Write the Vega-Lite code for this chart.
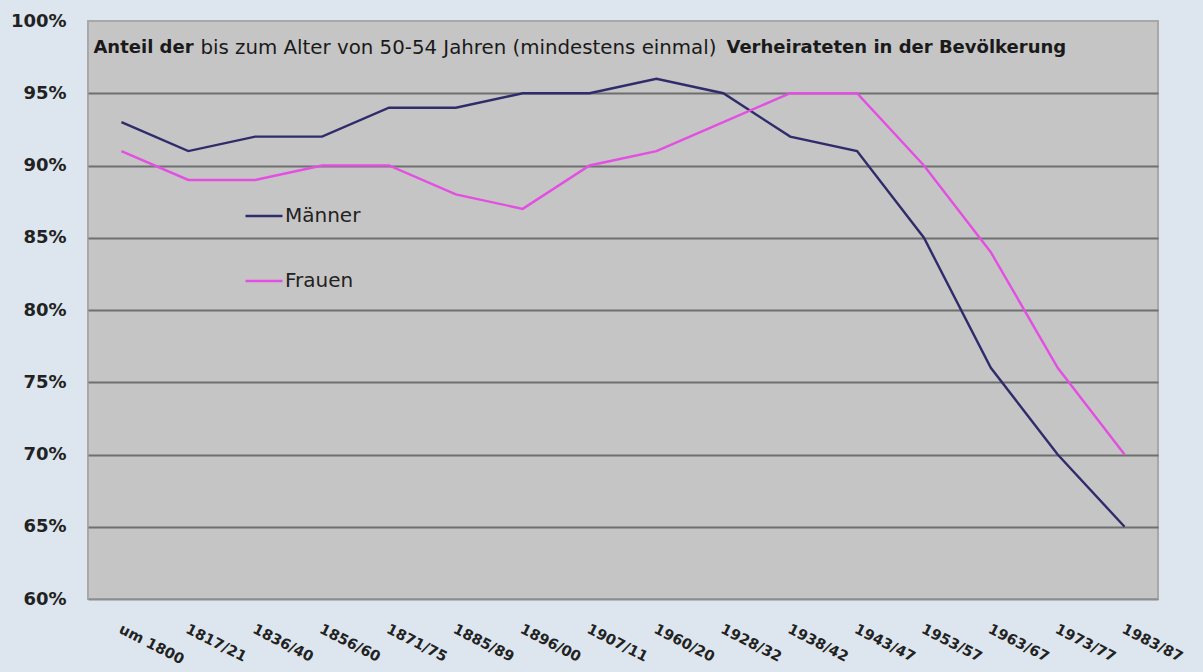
{
  "$schema": "https://vega.github.io/schema/vega-lite/v6.json",
  "width": 1070,
  "height": 578,
  "autosize": {"type": "none"},
  "padding": {"left": 88, "top": 21, "right": 45, "bottom": 73},
  "background": "#dde6ef",
  "config": {
    "view": {"fill": "#c6c5c5", "stroke": "#a8a8a8", "strokeWidth": 2},
    "font": "DejaVu Sans"
  },
  "layer": [
    {
      "data": {
        "values": [
          {"period": "um 1800", "sex": "Männer", "value": 93},
          {"period": "1817/21", "sex": "Männer", "value": 91},
          {"period": "1836/40", "sex": "Männer", "value": 92},
          {"period": "1856/60", "sex": "Männer", "value": 92},
          {"period": "1871/75", "sex": "Männer", "value": 94},
          {"period": "1885/89", "sex": "Männer", "value": 94},
          {"period": "1896/00", "sex": "Männer", "value": 95},
          {"period": "1907/11", "sex": "Männer", "value": 95},
          {"period": "1960/20", "sex": "Männer", "value": 96},
          {"period": "1928/32", "sex": "Männer", "value": 95},
          {"period": "1938/42", "sex": "Männer", "value": 92},
          {"period": "1943/47", "sex": "Männer", "value": 91},
          {"period": "1953/57", "sex": "Männer", "value": 85},
          {"period": "1963/67", "sex": "Männer", "value": 76},
          {"period": "1973/77", "sex": "Männer", "value": 70},
          {"period": "1983/87", "sex": "Männer", "value": 65},
          {"period": "um 1800", "sex": "Frauen", "value": 91},
          {"period": "1817/21", "sex": "Frauen", "value": 89},
          {"period": "1836/40", "sex": "Frauen", "value": 89},
          {"period": "1856/60", "sex": "Frauen", "value": 90},
          {"period": "1871/75", "sex": "Frauen", "value": 90},
          {"period": "1885/89", "sex": "Frauen", "value": 88},
          {"period": "1896/00", "sex": "Frauen", "value": 87},
          {"period": "1907/11", "sex": "Frauen", "value": 90},
          {"period": "1960/20", "sex": "Frauen", "value": 91},
          {"period": "1928/32", "sex": "Frauen", "value": 93},
          {"period": "1938/42", "sex": "Frauen", "value": 95},
          {"period": "1943/47", "sex": "Frauen", "value": 95},
          {"period": "1953/57", "sex": "Frauen", "value": 90},
          {"period": "1963/67", "sex": "Frauen", "value": 84},
          {"period": "1973/77", "sex": "Frauen", "value": 76},
          {"period": "1983/87", "sex": "Frauen", "value": 70}
        ]
      },
      "mark": {"type": "line", "strokeWidth": 2.4},
      "encoding": {
        "x": {
          "field": "period",
          "type": "nominal",
          "sort": null,
          "scale": {"type": "point", "padding": 0.5},
          "axis": {
            "title": null,
            "labelAngle": 27,
            "labelAlign": "left",
            "labelBaseline": "top",
            "labelOffset": 1,
            "labelPadding": 23,
            "labelFont": "DejaVu Sans",
            "labelFontWeight": "bold",
            "labelFontSize": 14.5,
            "labelColor": "#222222",
            "labelOverlap": false,
            "ticks": false,
            "domainColor": "#8c8c8c",
            "domainWidth": 2,
            "grid": false
          }
        },
        "y": {
          "field": "value",
          "type": "quantitative",
          "scale": {"domain": [60, 100], "nice": false, "zero": false},
          "axis": {
            "title": null,
            "values": [60, 65, 70, 75, 80, 85, 90, 95, 100],
            "labelExpr": "datum.value + '%'",
            "labelFont": "DejaVu Sans",
            "labelFontWeight": "bold",
            "labelFontSize": 18,
            "labelColor": "#222222",
            "labelPadding": 22,
            "ticks": false,
            "domain": false,
            "grid": true,
            "gridColor": "#6f6f6f",
            "gridWidth": 2,
            "gridOpacity": {"condition": {"test": "datum.value >= 100 || datum.value <= 60", "value": 0}, "value": 1}
          }
        },
        "color": {
          "field": "sex",
          "type": "nominal",
          "scale": {"domain": ["Männer", "Frauen"], "range": ["#2f2c6b", "#e24fe2"]},
          "legend": {
            "title": null,
            "orient": "none",
            "legendX": 156,
            "legendY": 175,
            "symbolType": "stroke",
            "symbolSize": 1369,
            "symbolStrokeWidth": 2.6,
            "labelFont": "DejaVu Sans",
            "labelFontSize": 20,
            "labelColor": "#222222",
            "labelOffset": 1,
            "rowPadding": 35
          }
        }
      }
    },
    {
      "data": {"values": [{"period": "um 1800", "pos": 98.15, "t": "Anteil der"}]},
      "mark": {"type": "text", "align": "left", "baseline": "middle", "dx": -28, "fontSize": 18, "fontWeight": "bold", "font": "DejaVu Sans", "color": "#1a1a1a"},
      "encoding": {
        "x": {"field": "period", "type": "nominal", "sort": null},
        "y": {"field": "pos", "type": "quantitative"},
        "text": {"field": "t", "type": "nominal"}
      }
    },
    {
      "data": {"values": [{"period": "um 1800", "pos": 98.15, "t": "bis zum Alter von 50-54 Jahren (mindestens einmal)"}]},
      "mark": {"type": "text", "align": "left", "baseline": "middle", "dx": 79, "fontSize": 19.8, "font": "DejaVu Sans", "color": "#1a1a1a"},
      "encoding": {
        "x": {"field": "period", "type": "nominal", "sort": null},
        "y": {"field": "pos", "type": "quantitative"},
        "text": {"field": "t", "type": "nominal"}
      }
    },
    {
      "data": {"values": [{"period": "um 1800", "pos": 98.15, "t": "Verheirateten in der Bevölkerung"}]},
      "mark": {"type": "text", "align": "left", "baseline": "middle", "dx": 605, "fontSize": 18, "fontWeight": "bold", "font": "DejaVu Sans", "color": "#1a1a1a"},
      "encoding": {
        "x": {"field": "period", "type": "nominal", "sort": null},
        "y": {"field": "pos", "type": "quantitative"},
        "text": {"field": "t", "type": "nominal"}
      }
    }
  ]
}
